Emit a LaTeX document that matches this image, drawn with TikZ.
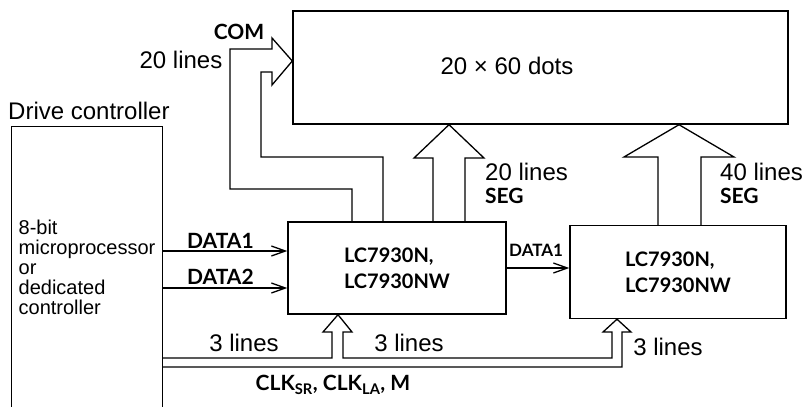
\documentclass[tikz,border=0pt]{standalone}
\usepackage{fontspec}
\setmainfont{Liberation Sans}
\newfontfamily\lblfont{Lato}
\usetikzlibrary{arrows.meta}

\tikzset{
  box/.style={draw, line width=1.4pt, inner sep=0pt},
  wire/.style={line width=1.3pt, line join=miter},
  sig/.style={line width=1.3pt, -{Straight Barb[length=14pt,width=10pt,line width=1.3pt]}},
  tag/.style={font=\lblfont\bfseries\fontsize{21}{23}\selectfont, inner sep=0pt},
  smalltag/.style={font=\lblfont\bfseries\fontsize{17}{19}\selectfont, inner sep=0pt},
  txt/.style={font=\fontsize{24}{26}\selectfont, inner sep=0pt},
}

\begin{document}
\begin{tikzpicture}[x=1pt,y=-1pt]
        \useasboundingbox (0,0) rectangle (806,407);

        % Blocchi
        \node[box, minimum width=495pt, minimum height=113pt] (display) at (540.5,67.5) {};
        \node[txt] (dots) at (507,66) {20 × 60 dots};
        \node[box, minimum width=218pt, minimum height=92pt, align=left,
              font=\lblfont\bfseries\fontsize{20}{26}\selectfont] (chipA) at (397,268) {LC7930N,\\LC7930NW};
        \node[box, minimum width=216pt, minimum height=93pt, align=left,
              font=\lblfont\bfseries\fontsize{20}{26}\selectfont] (chipB) at (678,272) {LC7930N,\\LC7930NW};
        \node[minimum width=150pt, minimum height=280pt, inner sep=0pt, align=left,
              font=\fontsize{20}{20}\selectfont] (drive) at (87,267) {8-bit\\microprocessor\\or\\dedicated\\controller};
        \draw[wire] (drive.south west) |- (drive.north east) -- (drive.south east);
        \node[txt, anchor=west] (drivelbl) at (8,111) {Drive controller};

        % Freccia COM
        \draw[wire] (352,0 |- chipA.north) -- (352,189) -- (230,189) -- (230,49) -- (272,49) -- (272,38)
          -- (display.west |- 0,61) -- (272,85) -- (272,72) -- (261,72) -- (261,157) -- (383,157) -- (383,0 |- chipA.north);
        \node[tag] (com) at (239,32) {COM};
        \node[txt] (comlines) at (181,60) {20 lines};

        % Frecce SEG
        \draw[wire] (433,0 |- chipA.north) -- (433,158) -- (414,158) -- (449,0 |- display.south)
          -- (484,158) -- (465,158) -- (465,0 |- chipA.north);
        \node[txt, anchor=west] (seglinesA) at (485,172) {20 lines};
        \node[tag, anchor=west] (segA) at (485,196) {SEG};
        \draw[wire] (658,0 |- chipB.north) -- (658,157) -- (624,157) -- (679,0 |- display.south)
          -- (734,157) -- (701,157) -- (701,0 |- chipB.north);
        \node[txt, anchor=west] (seglinesB) at (720,172) {40 lines};
        \node[tag, anchor=west] (segB) at (720,196) {SEG};

        % Dati
        \draw[sig] (drive.east |- 0,251) -- (chipA.west |- 0,251);
        \node[tag, anchor=west] (dataA) at (187,241) {DATA1};
        \draw[sig] (drive.east |- 0,288) -- (chipA.west |- 0,288);
        \node[tag, anchor=west] (dataB) at (187,277) {DATA2};
        \draw[sig] (chipA.east) -- (chipA.east -| chipB.west);
        \node[smalltag, anchor=west] (dataC) at (509,250) {DATA1};

        % Bus di clock (3 lines)
        \draw[wire] (drive.east |- 0,358) -- (332,358) -- (332,332) -- (323,332) -- (338,0 |- chipA.south)
          -- (352,332) -- (343,332) -- (343,358) -- (612,358) -- (612,332) -- (603,332) -- (617,0 |- chipB.south)
          -- (631,332) -- (622,332) -- (622,367) -- (drive.east |- 0,367);
        \node[txt] (busA) at (244,343) {3 lines};
        \node[txt] (busB) at (409,343) {3 lines};
        \node[txt] (busC) at (668,347) {3 lines};
        \node[tag] (clk) at (333,385) {CLK\textsubscript{SR}, CLK\textsubscript{LA}, M};

\end{tikzpicture}
\end{document}
